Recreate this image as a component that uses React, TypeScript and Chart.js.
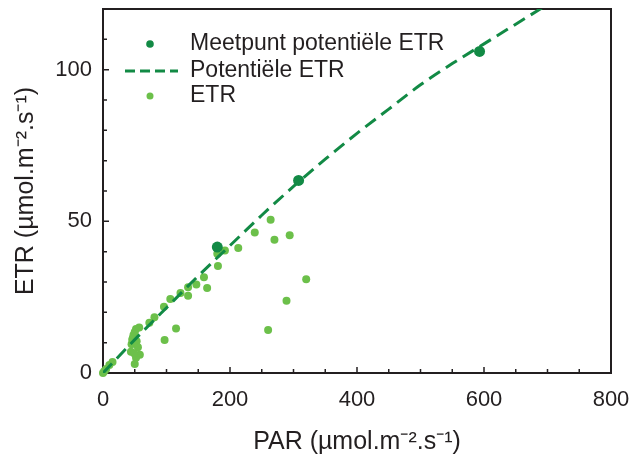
import React, { useEffect, useRef } from 'react';
import { Chart, registerables } from 'chart.js';

Chart.register(...registerables);

// ---- data ----
const meetpuntX = [180, 308, 593];
const meetpuntY = [41.5, 63.5, 106];

const potentieelX = [0, 50, 100, 150, 200, 250, 300, 350, 400, 450, 500, 550, 600, 650, 700];
const potentieelY = [0, 11, 21.5, 32, 42, 52, 61.5, 70.5, 79, 87, 95, 102, 108.5, 115, 121.5];

const etrX = [0, 2, 5, 10, 15, 44, 45, 46, 47, 48, 50, 52, 53, 55, 57, 58, 52, 50, 49, 73, 81, 96, 97, 106, 115, 122, 134, 134, 147, 159, 164, 181, 180, 192, 213, 239, 264, 270, 294, 320, 289, 260];
const etrY = [0, 0.6, 1.3, 2.6, 3.6, 7, 9.5, 11, 11.5, 12.5, 13.5, 14.5, 10.5, 8.5, 15, 6, 5, 3, 6.5, 16.6, 18.4, 21.8, 10.9, 24.4, 14.7, 26.4, 28.3, 25.5, 29.2, 31.6, 28, 35.3, 39.3, 40.4, 41.2, 46.3, 50.5, 43.9, 45.4, 30.9, 23.8, 14.2];

const xLabelValues = [0, 200, 400, 600, 800];
const yLabelValues = [0, 50, 100];

const legendLabels = ['Meetpunt potentiële ETR', 'Potentiële ETR', 'ETR'];
const xTitle = 'PAR (µmol.m⁻².s⁻¹)';
const yTitle = 'ETR (µmol.m⁻².s⁻¹)';

// ---- styles ----
const DARK = '#128a45';
const LIGHT = '#6cc04a';
const AXIS = '#231f20';
const FONT = "'Liberation Sans', Arial, sans-serif";

const framePlugin = {
  id: 'framePlugin',
  beforeDatasetsDraw(chart: any) {
    const { ctx, chartArea: a, scales } = chart;
    ctx.save();
    ctx.strokeStyle = AXIS;
    ctx.lineWidth = 2;
    ctx.beginPath();
    ctx.moveTo(a.left, a.top);
    ctx.lineTo(a.right, a.top);
    ctx.lineTo(a.right, a.bottom);
    ctx.stroke();
    ctx.lineWidth = 1.5;
    ctx.beginPath();
    scales.x.ticks.forEach((t: any) => {
      const px = scales.x.getPixelForValue(t.value);
      const len = xLabelValues.includes(t.value) ? 6 : 4;
      ctx.moveTo(px, a.bottom);
      ctx.lineTo(px, a.bottom - len);
    });
    scales.y.ticks.forEach((t: any) => {
      const py = scales.y.getPixelForValue(t.value);
      const len = yLabelValues.includes(t.value) ? 6 : 4;
      ctx.moveTo(a.left, py);
      ctx.lineTo(a.left + len, py);
    });
    ctx.stroke();
    ctx.restore();
  },
};

const legendPlugin = {
  id: 'legendPlugin',
  afterDraw(chart: any) {
    const { ctx } = chart;
    ctx.save();
    ctx.font = `23px ${FONT}`;
    ctx.textBaseline = 'middle';
    ctx.textAlign = 'left';
    const textX = 190;
    const rows = [44, 71, 96];
    ctx.fillStyle = DARK;
    ctx.beginPath();
    ctx.arc(150, rows[0], 3.8, 0, Math.PI * 2);
    ctx.fill();
    ctx.strokeStyle = DARK;
    ctx.lineWidth = 3;
    ctx.setLineDash([10, 5]);
    ctx.beginPath();
    ctx.moveTo(125, rows[1]);
    ctx.lineTo(178, rows[1]);
    ctx.stroke();
    ctx.setLineDash([]);
    ctx.fillStyle = LIGHT;
    ctx.beginPath();
    ctx.arc(150, rows[2], 3.5, 0, Math.PI * 2);
    ctx.fill();
    ctx.fillStyle = AXIS;
    legendLabels.forEach((l, i) => ctx.fillText(l, textX, rows[i]));
    ctx.restore();
  },
};

export default function App() {
  const ref = useRef<HTMLCanvasElement>(null);
  useEffect(() => {
    const chart = new Chart(ref.current as HTMLCanvasElement, {
      type: 'scatter',
      data: {
        datasets: [
          {
            label: legendLabels[0],
            data: meetpuntX.map((x, i) => ({ x, y: meetpuntY[i] })),
            backgroundColor: DARK,
            borderColor: DARK,
            pointRadius: 5.5,
            pointBorderWidth: 0,
            order: 0,
            clip: false,
          } as any,
          {
            type: 'line',
            label: legendLabels[1],
            data: potentieelX.map((x, i) => ({ x, y: potentieelY[i] })),
            borderColor: DARK,
            borderWidth: 3,
            borderDash: [13, 7],
            pointRadius: 0,
            fill: false,
            tension: 0.4,
            cubicInterpolationMode: 'monotone',
            order: 1,
          } as any,
          {
            label: legendLabels[2],
            data: etrX.map((x, i) => ({ x, y: etrY[i] })),
            backgroundColor: LIGHT,
            borderColor: LIGHT,
            pointRadius: 4,
            pointBorderWidth: 0,
            order: 2,
            clip: false,
          } as any,
        ],
      },
      options: {
        responsive: false,
        animation: false,
        events: [],
        layout: { padding: { top: 9, right: 20, left: 0, bottom: 0 } },
        plugins: {
          legend: { display: false },
          tooltip: { enabled: false },
        },
        scales: {
          x: {
            type: 'linear',
            min: 0,
            max: 800,
            afterFit: (s: any) => {
              s.height = 84;
              s.paddingLeft = 0;
              s.paddingRight = 0;
            },
            grid: { display: false, drawTicks: false },
            border: { display: true, color: AXIS, width: 2 },
            ticks: {
              stepSize: 50,
              autoSkip: false,
              maxRotation: 0,
              padding: 14,
              color: AXIS,
              font: { size: 22, family: FONT },
              callback: (v: any) => (xLabelValues.includes(Number(v)) ? String(v) : ''),
            },
            title: {
              display: true,
              text: xTitle,
              color: AXIS,
              font: { size: 25, family: FONT },
              padding: { top: 0, bottom: 0 },
            },
          },
          y: {
            type: 'linear',
            min: 0,
            max: 120,
            afterFit: (s: any) => {
              s.width = 103;
              s.paddingTop = 0;
              s.paddingBottom = 0;
            },
            grid: { display: false, drawTicks: false },
            border: { display: true, color: AXIS, width: 2 },
            ticks: {
              stepSize: 10,
              autoSkip: false,
              padding: 11,
              color: AXIS,
              font: { size: 22, family: FONT },
              callback: (v: any) => (yLabelValues.includes(Number(v)) ? String(v) : ''),
            },
            title: {
              display: true,
              text: yTitle,
              color: AXIS,
              font: { size: 25, family: FONT },
              padding: { top: 11, bottom: 0 },
            },
          },
        },
      },
      plugins: [framePlugin, legendPlugin],
    } as any);
    return () => chart.destroy();
  }, []);
  return (
    <div style={{ position: 'fixed', left: 0, top: 0, width: 631, height: 457, background: '#fff' }}>
      <canvas ref={ref} width={631} height={457} style={{ display: 'block' }} />
    </div>
  );
}
